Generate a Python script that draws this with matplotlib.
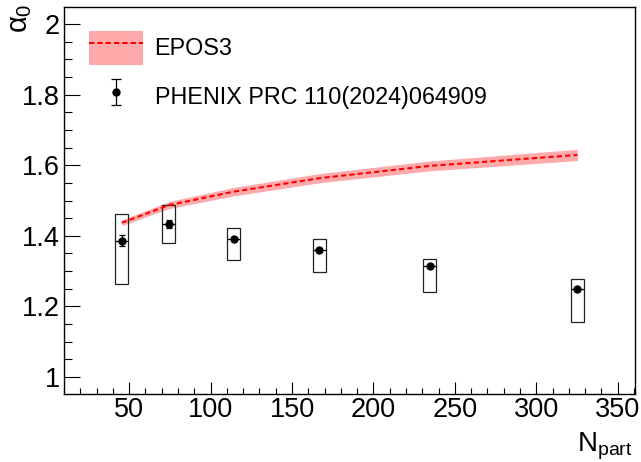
import numpy as np
import matplotlib
matplotlib.use('Agg')
import matplotlib.pyplot as plt
from matplotlib.ticker import MultipleLocator
from matplotlib.legend_handler import HandlerErrorbar, HandlerTuple

plt.rcParams['font.family'] = ['Liberation Sans', 'DejaVu Sans']
plt.rcParams['mathtext.fontset'] = 'custom'
plt.rcParams['mathtext.rm'] = 'Liberation Sans'
plt.rcParams['mathtext.it'] = 'Liberation Sans'

# PHENIX points (Npart, alpha0, stat error, systematic box limits)
npart = [45.5, 74.4, 114.2, 166.6, 234.6, 325.2]
alpha0 = [1.386, 1.434, 1.390, 1.360, 1.314, 1.250]
stat_err = [0.016, 0.012, 0.006, 0.005, 0.005, 0.005]
sys_hi = [1.463, 1.488, 1.422, 1.390, 1.334, 1.277]
sys_lo = [1.263, 1.380, 1.331, 1.297, 1.242, 1.155]

# EPOS3 curve and band half width
epos = [1.437, 1.487, 1.525, 1.563, 1.598, 1.629]
epos_err = [0.008, 0.010, 0.012, 0.013, 0.014, 0.016]

W, H = 641, 462
fig = plt.figure(figsize=(W / 100, H / 100), dpi=100)
ax = fig.add_axes([64 / W, (H - 394) / H, 571 / W, 387 / H])

x = np.array(npart)
ep = np.array(epos)
ee = np.array(epos_err)

band = ax.fill_between(x, ep - ee, ep + ee, color='#ffaaaa', lw=0)
line, = ax.plot(x, ep, color='red', lw=1.5, ls=(0, (2.5, 1.5)))

# systematic boxes
lo = np.array(sys_lo)
hi = np.array(sys_hi)
ax.bar(x, hi - lo, bottom=lo, width=8, fill=False, edgecolor='#222222', lw=0.9)

ax.errorbar(x, alpha0, xerr=4, fmt='none', ecolor='black', elinewidth=0.9, capsize=0)
ax.errorbar(x, alpha0, yerr=stat_err, fmt='o', color='black', ms=5,
            elinewidth=0.9, capsize=2, capthick=0.9)

proxy = ax.errorbar([np.nan], [np.nan], yerr=[0.1], fmt='o', color='black', ms=5,
                    elinewidth=0.9, capsize=3.6, capthick=0.9)

fs = 16.8
leg = ax.legend([(band, line), proxy], ['EPOS3', 'PHENIX PRC 110(2024)064909'],
                handler_map={tuple: HandlerTuple(ndivide=1, pad=0),
                             type(proxy): HandlerErrorbar(yerr_size=0.6 * 16 / fs)},
                loc='upper left', bbox_to_anchor=(25 / 571, 1 - 24 / 387),
                frameon=False, fontsize=fs, borderpad=0, borderaxespad=0,
                handlelength=2.45 * 16 / fs, handleheight=1.93 * 16 / fs,
                handletextpad=0.5 * 16 / fs, labelspacing=0.66)

ax.set_xlim(10, 360.6)
ax.set_ylim(0.952, 2.048)
ax.xaxis.set_major_locator(MultipleLocator(50))
ax.xaxis.set_minor_locator(MultipleLocator(10))
ax.yaxis.set_major_locator(MultipleLocator(0.2))
ax.yaxis.set_minor_locator(MultipleLocator(0.05))
ax.set_yticks([1, 1.2, 1.4, 1.6, 1.8, 2.0])
ax.set_yticklabels(['1', '1.2', '1.4', '1.6', '1.8', '2'])
ax.set_xticks([50, 100, 150, 200, 250, 300, 350])

ax.tick_params(axis='x', which='major', direction='in', length=8.6, width=0.8, labelsize=19.5, pad=2)
ax.tick_params(axis='x', which='minor', direction='in', length=4.3, width=0.8)
ax.tick_params(axis='y', which='major', direction='in', length=11.5, width=0.8, labelsize=19.5, pad=3)
ax.tick_params(axis='y', which='minor', direction='in', length=5.8, width=0.8)
for s in ax.spines.values():
    s.set_linewidth(1.0)

fig.text(20 / W, 1 - 4 / H, r'$\alpha_{0}$', rotation=90, ha='center', va='top', fontsize=21)
fig.text(633 / W, 10 / H, r'N$_{\mathrm{part}}$', ha='right', va='baseline', fontsize=20)

fig.savefig('out.png', dpi=100)
